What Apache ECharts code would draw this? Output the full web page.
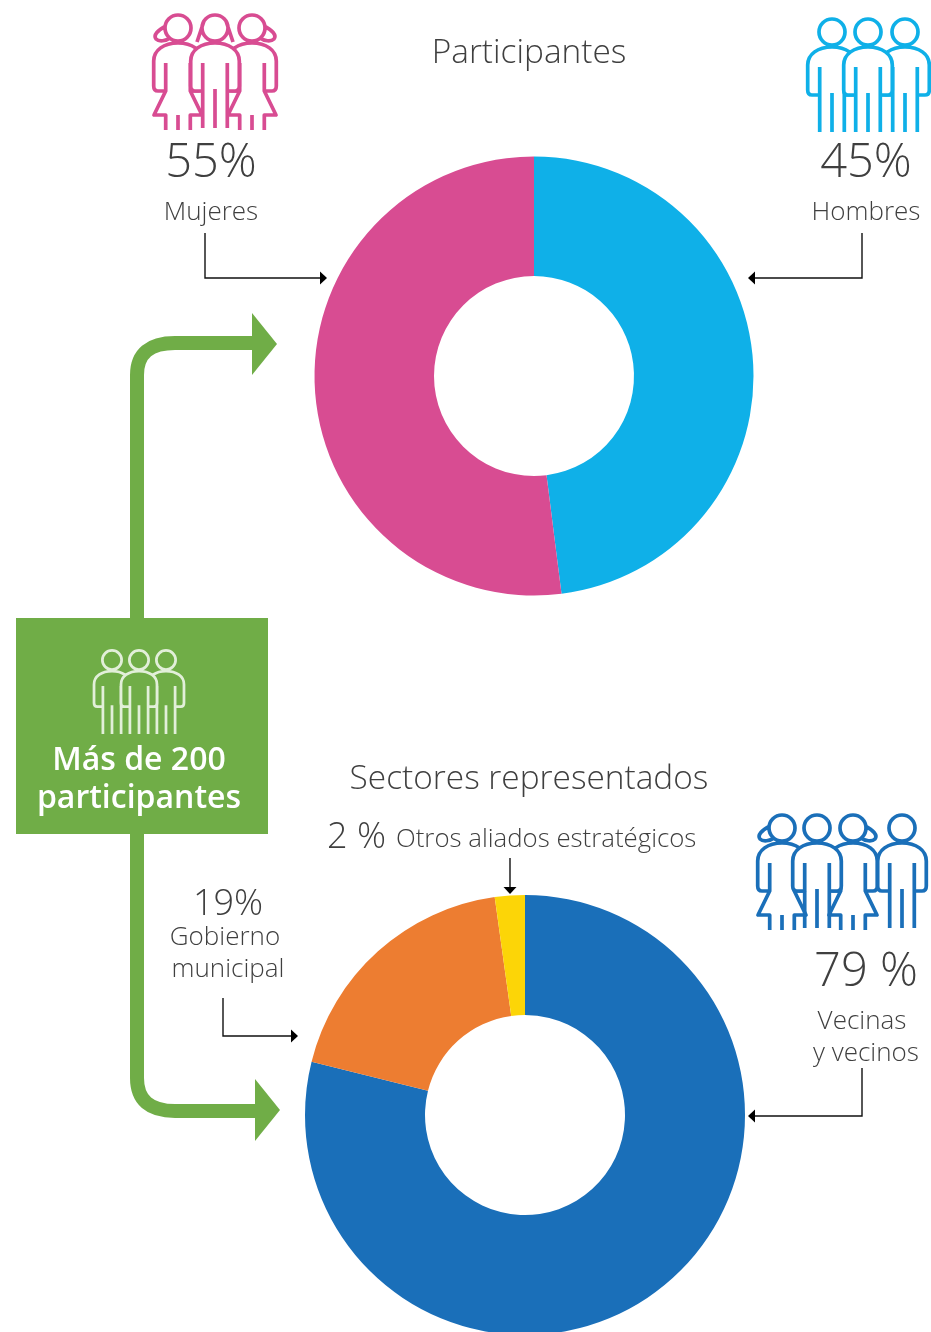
<!DOCTYPE html>
<html>
<head>
<meta charset="utf-8">
<style>
	html,body{margin:0;padding:0;background:#fff;}
	#chart{width:931px;height:1332px;}
</style>
</head>
<body>
<div id="chart"></div>
<script src="https://cdn.jsdelivr.net/npm/echarts@6/dist/echarts.min.js"></script>
<script>
// participantes: slices as drawn in the picture (boundary about 173 deg), printed labels say 45 / 55
var genderNames = ['Hombres', 'Mujeres'];
var genderSlices = [48, 52];
var genderLabels = ['45%', '55%'];

// sectores representados: slice sizes, printed labels are rounded
var sectorNames = ['Vecinas y vecinos', 'Gobierno municipal', 'Otros aliados estratégicos'];
var sectorValues = [78.9, 18.9, 2.2];
var sectorLabels = ['79 %', '19%', '2 %'];

var titles = ['Participantes', 'Sectores representados'];
var boxLines = ['Más de 200', 'participantes'];

var PINK = '#d84c92', SKY = '#0fb0e8', BLUE = '#1a6fb9', ORANGE = '#ed7d31', YELLOW = '#fcd507', GREEN = '#70ad47';
var FONT = '"Open Sans", sans-serif';

var HEAD = 'M-13 0A13 13 0 1 1 13 0A13 13 0 1 1 -13 0';
var BODY = 'M-24.3 33C-24.3 22 -14 15 0 15C14 15 24.3 22 24.3 33L24.3 58Q24.3 63 20 63L-20 63Q-24.3 63 -24.3 58Z';
var OUTLINE = 'M-12.3 63L-20 63Q-24.3 63 -24.3 58L-24.3 33C-24.3 22 -14 15 0 15C14 15 24.3 22 24.3 33L24.3 58Q24.3 63 20 63L12.3 63';
var PANTS = 'M-12.3 35L-12.3 100M12.3 35L12.3 100M0 61L0 100';
var SKIRT = 'M-12.3 35L-12.3 63L-24 87L-12.3 87L-12.3 102M12.3 35L12.3 63L24 87L12.3 87L12.3 102M0 87L0 102';
var HAIR_L = 'M-12 -2C-20 2 -25 7 -22 11C-19 14 -12 13 -8 10';
var HAIR_R = 'M12 -2C20 2 25 7 22 11C19 14 12 13 8 10';
var HAIR_BOTH = 'M-11 -7L-18 14M11 -7L18 14';

function path(d, style) {
	return {type: 'path', shape: {pathData: d}, style: style};
}
function person(x, y, color, back, hair, skirt, scale) {
	var line = {stroke: color, fill: null, lineWidth: 3.7, lineCap: 'butt', lineJoin: 'round'};
	return {
		type: 'group', x: x, y: y, scaleX: scale || 1, scaleY: scale || 1,
		children: [
			path(BODY, {fill: back, stroke: null}),
			path(HEAD + OUTLINE + (skirt ? SKIRT : PANTS) + (hair || ''), line)
		]
	};
}
function wire(d) {
	return path(d, {stroke: '#111', fill: null, lineWidth: 1.4});
}
function tip(d) {
	return path(d, {fill: '#000', stroke: null});
}
function text(str, x, y, size, opt) {
	opt = opt || {};
	return {
		type: 'text', x: x, y: y,
		style: {
			text: str, fontFamily: FONT, fontSize: size, fontWeight: opt.weight || 300,
			fill: opt.color || '#3f3f3f', textAlign: opt.align || 'center', textVerticalAlign: 'middle'
		}
	};
}

function buildExtras() {
	return [
		// flecha verde
		path('M137 620L137 375Q137 343 175 343L255 343', {stroke: GREEN, fill: null, lineWidth: 14}),
		path('M252 313L277 344L252 375Z', {fill: GREEN}),
		path('M137 830L137 1078Q137 1111 175 1111L258 1111', {stroke: GREEN, fill: null, lineWidth: 14}),
		path('M255 1079L280 1110L255 1141Z', {fill: GREEN}),
		{type: 'rect', shape: {x: 16, y: 618, width: 252, height: 216}, style: {fill: GREEN}},

		// flechas finas
		wire('M205 233L205 278L321 278'), tip('M320 271.5L327 278L320 284.5Z'),
		wire('M862 233L862 278L754 278'), tip('M755 271.5L748 278L755 284.5Z'),
		wire('M862 1068L862 1116L754 1116'), tip('M755 1109.5L748 1116L755 1122.5Z'),
		wire('M223 998L223 1036L292 1036'), tip('M291 1029.5L298 1036L291 1042.5Z'),
		wire('M510 858L510 888'), tip('M503.5 887L510 894L516.5 887Z'),

		// iconos
		person(178, 28, PINK, '#fff', HAIR_L, true),
		person(252, 28, PINK, '#fff', HAIR_R, true),
		person(215, 28, PINK, '#fff', HAIR_BOTH, false),

		person(832, 32, SKY, '#fff'),
		person(905, 32, SKY, '#fff'),
		person(868, 32, SKY, '#fff'),

		person(782, 828, BLUE, '#fff', HAIR_L, true),
		person(853, 828, BLUE, '#fff', HAIR_R, true),
		person(902, 828, BLUE, '#fff'),
		person(817, 828, BLUE, '#fff'),

		person(112, 660, '#e2efd9', GREEN, null, false, 0.74),
		person(166, 660, '#e2efd9', GREEN, null, false, 0.74),
		person(139, 660, '#e2efd9', GREEN, null, false, 0.74),

		// textos
		text(titles[0], 529, 53, 33.4),
		text(titles[1], 529, 779, 33.4),
		text(genderLabels[1], 211, 164, 47),
		text(genderNames[1], 211, 213, 26),
		text(genderLabels[0], 866, 164, 47),
		text(genderNames[0], 866, 213, 26),
		text(sectorLabels[2], 327, 838, 36, {align: 'left'}),
		text('Otros aliados estratégicos', 396, 840, 25.8, {align: 'left'}),
		text(sectorLabels[1], 228, 905, 36),
		text('Gobierno', 225, 938, 26),
		text('municipal', 228, 970, 26),
		text(sectorLabels[0], 866, 973, 47),
		text('Vecinas', 862, 1022, 26),
		text('y vecinos', 866, 1054, 26),
		text(boxLines[0], 139, 761, 32, {weight: 600, color: '#fff'}),
		text(boxLines[1], 139, 799, 32, {weight: 600, color: '#fff'})
	];
}

var chart = echarts.init(document.getElementById('chart'), null, {renderer: 'canvas'});
chart.setOption({
	animation: false,
	backgroundColor: '#fff',
	series: [
		{
			type: 'pie',
			center: [534, 376],
			radius: [100, 219.5],
			startAngle: 90,
			label: {show: false},
			labelLine: {show: false},
			silent: true,
			color: [SKY, PINK],
			data: genderNames.map(function (n, i) { return {name: n, value: genderSlices[i]}; })
		},
		{
			type: 'pie',
			center: [525, 1115],
			radius: [100, 220],
			startAngle: 90,
			label: {show: false},
			labelLine: {show: false},
			silent: true,
			color: [BLUE, ORANGE, YELLOW],
			data: sectorNames.map(function (n, i) { return {name: n, value: sectorValues[i]}; })
		},
		{
			type: 'custom',
			coordinateSystem: 'none',
			silent: true,
			z: 5,
			data: [0],
			renderItem: function () {
				return {type: 'group', children: buildExtras()};
			}
		}
	]
});
</script>
</body>
</html>
